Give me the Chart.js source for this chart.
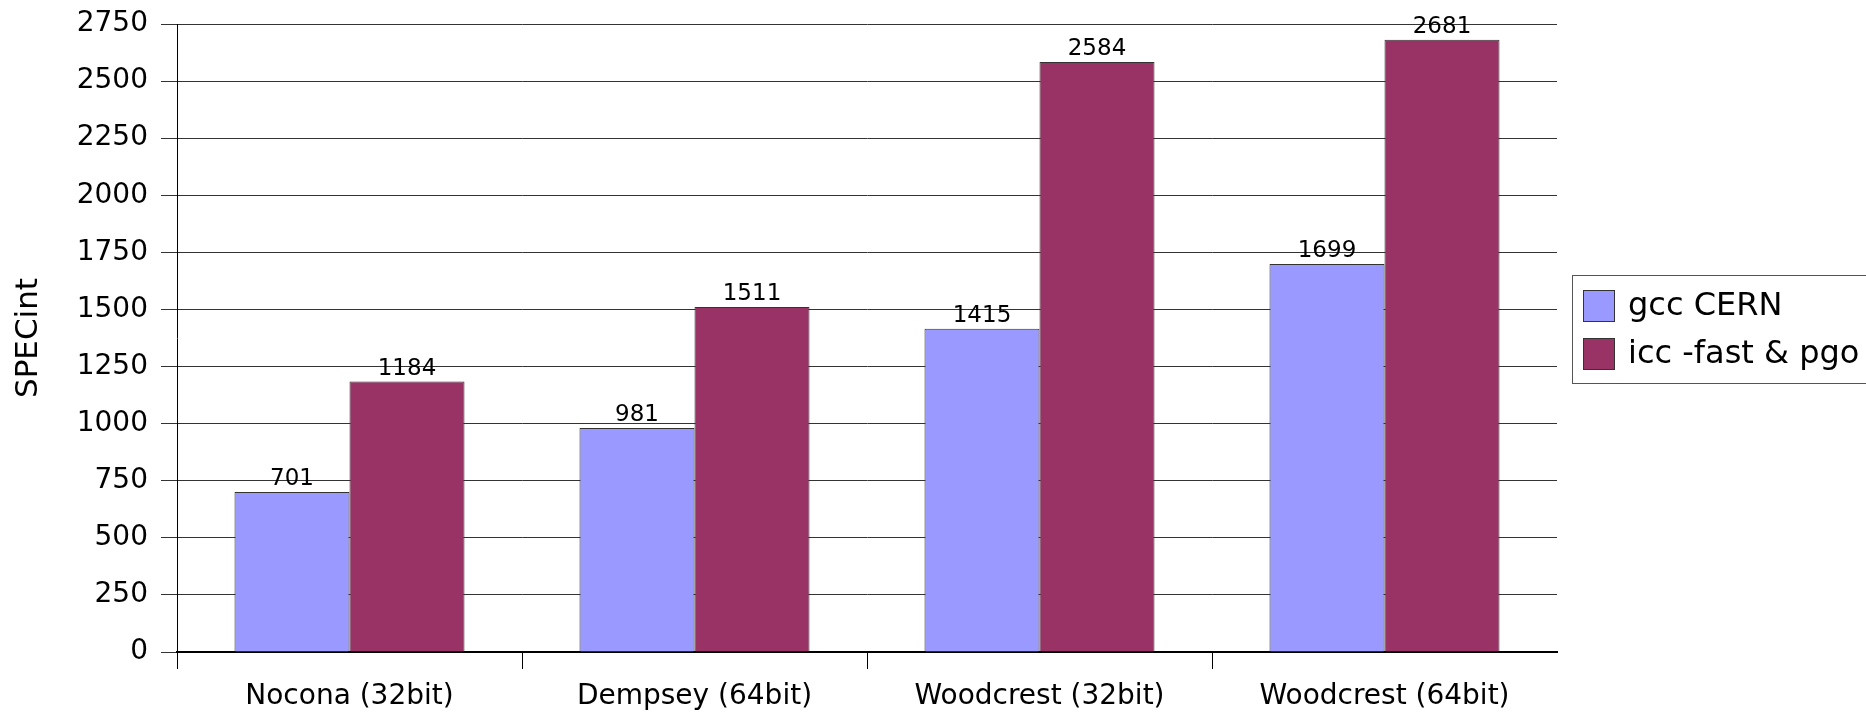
<!DOCTYPE html>
<html>
<head>
<meta charset="utf-8">
<script src="https://cdn.jsdelivr.net/npm/chart.js@4/dist/chart.umd.min.js"></script>
<style>
  html, body { margin: 0; padding: 0; background: #fff; overflow: hidden; }
  canvas { display: block; }
</style>
</head>
<body>
<canvas id="specChart" width="1866" height="712"></canvas>
<script>
const categories = ['Nocona (32bit)', 'Dempsey (64bit)', 'Woodcrest (32bit)', 'Woodcrest (64bit)'];
const gccValues = [701, 981, 1415, 1699];
const iccValues = [1184, 1511, 2584, 2681];
const seriesNames = ['gcc CERN', 'icc -fast & pgo'];
const seriesColors = ['#9999ff', '#993366'];
const yMax = 2750;
const yStep = 250;

const FONT = 'DejaVu Sans';

// value labels above each bar
const valueLabels = {
    id: 'valueLabels',
    afterDatasetsDraw(chart) {
        const ctx = chart.ctx;
        ctx.save();
        ctx.font = '23px "' + FONT + '"';
        ctx.fillStyle = '#000';
        ctx.textAlign = 'center';
        ctx.textBaseline = 'middle';
        chart.data.datasets.forEach((ds, i) => {
            chart.getDatasetMeta(i).data.forEach((bar, j) => {
                ctx.fillText(ds.data[j], bar.x, bar.y - 13);
            });
        });
        ctx.restore();
    }
};

// boxed legend to the right of the plot
const boxLegend = {
    id: 'boxLegend',
    afterDraw(chart) {
        const ctx = chart.ctx;
        const area = chart.chartArea;
        const left = area.right + 15;
        const top = (area.top + area.bottom) / 2 - 63;
        ctx.save();
        ctx.strokeStyle = '#555';
        ctx.lineWidth = 1;
        ctx.strokeRect(left + 0.5, top + 0.5, 320, 108);
        ctx.font = '32px "' + FONT + '"';
        ctx.textBaseline = 'middle';
        chart.data.datasets.forEach((ds, i) => {
            const y = top + 15 + i * 48;
            ctx.fillStyle = ds.backgroundColor;
            ctx.fillRect(left + 11, y, 32, 32);
            ctx.strokeStyle = '#333';
            ctx.strokeRect(left + 11.5, y + 0.5, 31, 31);
            ctx.fillStyle = '#000';
            ctx.fillText(ds.label, left + 56, y + 17);
        });
        ctx.restore();
    }
};

const ctx = document.getElementById('specChart').getContext('2d');
new Chart(ctx, {
    type: 'bar',
    data: {
        labels: categories,
        datasets: [{
            label: seriesNames[0],
            data: gccValues,
            backgroundColor: seriesColors[0],
            borderColor: '#333',
            borderWidth: 1
        }, {
            label: seriesNames[1],
            data: iccValues,
            backgroundColor: seriesColors[1],
            borderColor: '#333',
            borderWidth: 1
        }]
    },
    options: {
        responsive: false,
        animation: false,
        devicePixelRatio: 1,
        layout: {
            padding: { top: 24, right: 309, bottom: 0, left: 0 }
        },
        datasets: {
            bar: { categoryPercentage: 2 / 3, barPercentage: 1.0 }
        },
        plugins: {
            legend: { display: false },
            tooltip: { enabled: false }
        },
        scales: {
            x: {
                afterFit(scale) { scale.height = 60; },
                grid: {
                    drawOnChartArea: false,
                    drawTicks: true,
                    tickLength: 17,
                    color: c => c.type === 'tick' ? '#000' : 'rgba(0,0,0,0)'
                },
                border: { color: '#000', width: 2 },
                ticks: {
                    color: '#000',
                    padding: 11,
                    font: { family: FONT, size: 28 }
                }
            },
            y: {
                min: 0,
                max: yMax,
                afterFit(scale) {
                    scale.width = 177;
                    scale.paddingTop = 0;
                    scale.paddingBottom = 0;
                },
                grid: {
                    color: '#333',
                    tickLength: 16
                },
                border: { color: '#000', width: 1 },
                ticks: {
                    stepSize: yStep,
                    color: '#000',
                    padding: 13,
                    font: { family: FONT, size: 28 },
                    callback: v => String(v)
                },
                title: {
                    display: true,
                    text: 'SPECint',
                    color: '#000',
                    padding: { top: 10, bottom: 0 },
                    font: { family: FONT, size: 31 }
                }
            }
        }
    },
    plugins: [valueLabels, boxLegend]
});
</script>
</body>
</html>
